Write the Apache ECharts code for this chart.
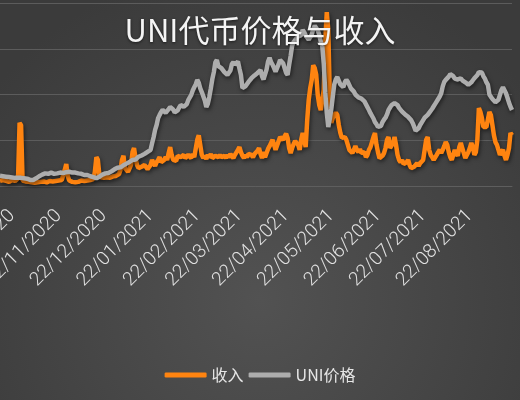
<!DOCTYPE html>
<html>
<head>
<meta charset="utf-8">
<script src="https://cdn.jsdelivr.net/npm/echarts@6/dist/echarts.min.js"></script>
<style>
  html, body { margin: 0; padding: 0; background: #404040; }
  #container { width: 520px; height: 400px; }
</style>
</head>
<body>
<div id="container"></div>
<script>
// daily points from 14/10/2020 to 19/09/2021
const startDate = Date.UTC(2020, 9, 14)
const dayCount = 341
const dates = []
for (let i = 0; i < dayCount; i++) {
    const d = new Date(startDate + i * 86400000)
    const dd = String(d.getUTCDate()).padStart(2, '0')
    const mm = String(d.getUTCMonth() + 1).padStart(2, '0')
    dates.push(dd + '/' + mm + '/' + d.getUTCFullYear())
}

// 收入 (left axis, 0-40)
const revenue = [
    1.1,0.9,1.3,0.9,1.1,1.3,0.9,1.1,1.3,0.9,1.1,1.5,1.7,
    13.8,13.3,
    1.2,0.9,1.0,0.8,0.9,0.7,0.8,0.9,0.7,1.0,0.8,0.7,0.9,0.8,1.0,0.9,0.8,1.0,1.1,0.9,1.0,1.2,1.1,1.0,1.2,1.1,1.3,1.4,
    3.5,4.8,2.2,
    1.2,1.0,0.9,1.1,0.8,1.0,0.9,1.1,1.2,1.0,1.1,1.3,1.2,1.1,1.3,1.4,1.5,
    3.1,6.3,5.7,2.4,
    1.9,1.7,1.8,1.6,1.9,2.0,1.8,1.7,2.1,2.0,2.2,2.3,2.6,
    3.5,5.7,6.6,3.9,3.5,3.1,3.5,4.6,7.4,8.3,6.1,4.6,3.9,3.5,4.2,3.9,4.6,4.2,3.7,3.9,4.6,
    5.7,5.0,4.4,5.2,5.7,6.3,5.2,4.8,5.7,6.3,5.7,7.2,8.5,6.8,5.7,6.1,5.5,6.6,7.0,6.3,5.9,6.8,6.1,5.7,6.8,6.6,6.1,7.0,6.3,5.9,
    10.1,11.1,10.7,6.8,6.1,6.6,5.9,6.8,6.3,7.0,6.1,5.7,6.6,7.0,6.3,6.8,6.3,5.9,6.6,6.1,6.8,6.3,7.0,6.6,6.1,6.8,7.2,7.9,8.5,7.4,
    6.6,6.1,6.8,6.3,7.0,7.4,6.8,6.3,7.0,6.6,7.7,8.3,7.0,6.1,7.4,6.3,7.2,8.1,8.7,9.4,
    10.1,9.0,7.9,8.3,9.8,10.7,10.3,10.1,10.9,11.4,10.5,8.3,7.2,8.3,9.2,9.8,10.1,9.0,7.9,10.1,
    11.6,10.1,8.5,14.4,18.8,21.4,23.2,26.4,25.8,24.3,19.9,17.7,16.6,17.0,21.0,31.9,38.0,34.1,19.9,13.8,
    14.9,15.5,16.0,15.5,13.3,11.6,10.5,10.1,10.7,10.1,9.0,7.9,8.3,7.2,7.9,8.7,7.9,7.4,8.1,7.2,
    6.8,7.4,6.3,6.8,7.9,8.5,9.6,10.7,11.6,9.0,7.4,6.1,5.7,6.6,7.2,8.3,10.1,10.7,8.3,7.9,
    9.4,10.7,9.0,6.8,5.7,5.2,5.7,4.8,4.6,5.2,5.7,4.6,3.9,3.5,4.2,4.6,5.0,4.4,5.0,4.6,
    5.7,7.9,10.1,10.7,7.9,6.8,6.3,5.7,6.1,6.8,7.4,7.9,7.2,7.9,8.7,9.6,9.0,7.4,6.3,5.7,
    6.8,7.9,7.2,6.6,8.5,9.4,8.3,7.2,6.1,5.7,
    7.4,8.3,9.4,8.5,6.8,7.4,10.1,17.0,16.2,14.9,12.9,12.7,12.9,13.3,16.2,15.5,13.3,11.1,9.6,9.0,
    7.9,6.8,7.4,7.9,6.6,5.7,6.8,8.3,11.6,11.1
]

// UNI价格 (right axis, 0-45)
const price = [
    2.5,2.6,2.4,2.5,2.3,2.4,2.2,2.3,2.1,2.2,2.0,2.1,2.0,1.9,2.0,1.8,1.9,1.7,1.8,1.6,1.5,1.6,1.5,1.7,1.9,2.1,2.4,
    2.6,2.8,3.0,3.1,3.2,3.0,3.2,3.3,3.1,3.0,2.9,3.1,3.2,3.3,3.4,3.2,3.5,3.4,3.6,3.5,
    3.4,3.3,3.2,3.3,3.0,3.1,2.9,3.0,2.8,2.7,2.6,2.7,2.5,2.4,2.3,2.2,2.0,1.9,2.1,2.3,
    2.6,2.8,3.0,3.1,3.3,3.2,3.4,3.6,3.9,4.1,4.3,4.5,4.7,4.6,4.9,5.1,5.3,5.5,5.7,5.9,
    6.2,6.4,6.6,6.5,6.9,7.2,7.0,7.5,7.7,7.9,8.2,8.4,8.6,8.9,
    10.5,12.0,13.8,15.0,16.7,17.5,18.2,18.7,
    18.4,18.0,18.3,18.9,19.4,19.2,18.8,18.1,18.3,18.6,19.3,19.9,
    19.9,19.5,19.2,20.1,21.1,21.5,22.4,23.5,24.3,25.0,26.1,25.4,24.0,23.1,
    23.1,21.0,19.4,20.2,21.9,24.0,26.3,28.0,30.4,31.0,29.5,29.8,
    29.0,28.5,28.0,27.6,27.3,27.0,28.4,30.0,30.5,29.8,30.2,30.6,28.9,27.3,
    24.1,23.8,24.5,24.9,25.6,26.0,26.5,26.8,27.2,27.6,27.8,28.2,
    28.5,27.0,26.2,26.5,28.6,30.6,31.5,30.5,29.8,29.0,28.1,28.0,29.9,31.0,
    31.3,30.2,29.0,27.8,27.3,29.8,32.0,34.5,35.4,35.9,36.3,36.8,37.0,37.1,
    38.4,37.8,37.0,36.6,36.0,35.6,37.2,38.6,39.4,39.6,38.3,37.2,35.5,34.5,
    30.0,23.0,18.0,14.5,16.5,18.9,22.0,25.0,26.2,26.8,26.4,25.0,
    24.6,24.3,25.5,26.1,25.6,24.8,24.0,23.6,23.2,22.5,22.4,21.8,22.0,21.5,
    21.1,20.8,20.6,19.4,18.7,17.9,17.5,16.6,15.7,15.2,14.5,14.4,14.8,15.7,
    16.3,16.8,17.6,18.7,19.3,19.9,20.2,20.4,20.6,19.9,19.2,18.8,18.3,17.9,
    17.6,17.4,17.0,16.6,16.2,15.5,14.6,13.6,13.3,14.2,15.0,15.6,16.2,16.8,
    17.2,17.5,18.0,18.4,19.0,19.6,20.2,20.6,21.4,22.0,22.8,24.5,25.6,26.1,
    26.4,26.9,27.5,27.8,27.0,26.4,26.0,26.2,26.6,26.5,26.0,25.8,25.5,25.1,
    24.9,24.7,25.5,26.0,26.5,26.4,27.3,28.0,28.1,27.9,27.0,26.4,25.5,24.9,
    22.5,21.9,21.4,21.0,20.6,20.9,21.2,22.4,23.6,24.3,24.4,22.8,21.7,20.5,19.5,18.7
]

const seriesNames = ['收入', 'UNI价格']
const tickDay = '22/'

const myChart = echarts.init(document.getElementById('container'))
const lineShadow = {
    shadowColor: 'rgba(0,0,0,0.55)',
    shadowBlur: 4,
    shadowOffsetX: 1,
    shadowOffsetY: 2
}
const option = {
    backgroundColor: {
        type: 'radial',
        x: 0.5, y: 0.75, r: 0.85,
        colorStops: [
            { offset: 0, color: '#525252' },
            { offset: 1, color: '#3b3b3b' }
        ]
    },
    color: ['#ff8410', '#adadad'],
    animation: false,
    title: {
        text: 'UNI代币价格与收入',
        left: 'center',
        top: 10,
        textStyle: {
            fontFamily: 'Noto Sans CJK SC',
            fontWeight: 'normal',
            fontSize: 31,
            color: '#f4f4f4',
            textShadowColor: 'rgba(0,0,0,0.6)',
            textShadowBlur: 3,
            textShadowOffsetY: 1
        }
    },
    legend: {
        data: seriesNames,
        left: 'center',
        top: 362,
        icon: 'roundRect',
        itemWidth: 42,
        itemHeight: 5,
        itemGap: 5,
        textStyle: {
            fontFamily: 'Noto Sans CJK SC',
            fontSize: 16,
            color: '#e6e6e6'
        }
    },
    grid: {
        left: 0,
        right: 8,
        top: 3,
        bottom: 214,
        containLabel: false,
        outerBoundsMode: 'none'
    },
    xAxis: {
        type: 'category',
        data: dates,
        boundaryGap: false,
        axisTick: { show: false },
        axisLine: { lineStyle: { color: '#5e5e5e', width: 1 } },
        axisLabel: {
            interval: (idx, value) => value.startsWith(tickDay),
            rotate: 45,
            margin: 27,
            fontFamily: 'Roboto',
            fontWeight: 300,
            fontSize: 19,
            color: '#e2e2e2'
        }
    },
    yAxis: [
        {
            type: 'value',
            min: 0,
            max: 40,
            interval: 10,
            axisLabel: { show: false },
            axisLine: { show: false },
            axisTick: { show: false },
            splitLine: { lineStyle: { color: '#5c5c5c', width: 1 } }
        },
        {
            type: 'value',
            min: 0,
            max: 45,
            show: false,
            splitLine: { show: false }
        }
    ],
    series: [
        {
            name: seriesNames[0],
            type: 'line',
            yAxisIndex: 0,
            data: revenue,
            symbol: 'none',
            lineStyle: Object.assign({ width: 4.5 }, lineShadow)
        },
        {
            name: seriesNames[1],
            type: 'line',
            yAxisIndex: 1,
            data: price,
            symbol: 'none',
            lineStyle: Object.assign({ width: 4.5 }, lineShadow)
        }
    ]
}
myChart.setOption(option)
window.addEventListener('resize', () => {
    myChart.resize()
})
</script>
</body>
</html>
